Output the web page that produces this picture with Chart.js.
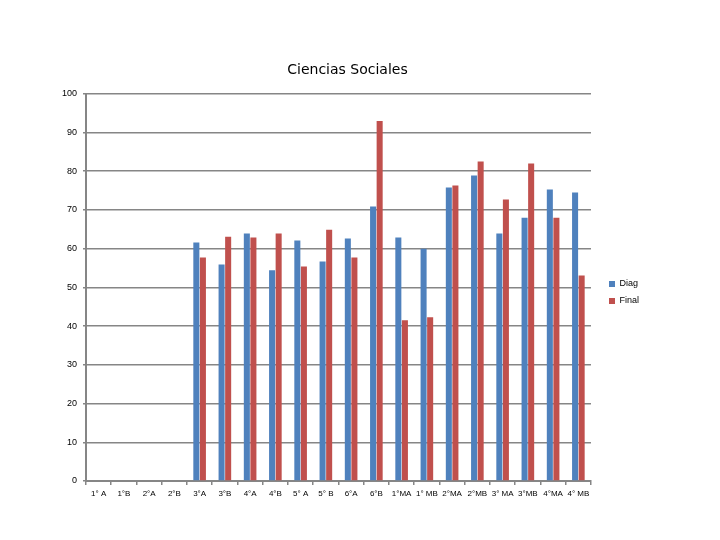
<!DOCTYPE html>
<html>
<head>
<meta charset="utf-8">
<script src="https://cdn.jsdelivr.net/npm/chart.js@4.4.1/dist/chart.umd.min.js"></script>
<style>
  body { margin: 0; background: #fff; }
  canvas { display: block; }
</style>
</head>
<body>
<canvas id="myChart" width="720" height="540"></canvas>
<script>
// cursos
const labels = ['1° A', '1°B', '2°A', '2°B', '3°A', '3°B', '4°A', '4°B', '5° A', '5° B',
  '6°A', '6°B', '1°MA', '1° MB', '2°MA', '2°MB', '3° MA', '3°MB', '4°MA', '4° MB'];

// promedios
const diag = [null, null, null, null, 61.6, 55.9, 63.9, 54.4, 62.1, 56.7,
  62.6, 70.9, 62.9, 60.0, 75.8, 78.9, 63.9, 68.0, 75.3, 74.5];
const final = [null, null, null, null, 57.7, 63.1, 62.9, 63.9, 55.4, 64.9,
  57.7, 93.0, 41.5, 42.3, 76.3, 82.5, 72.7, 82.0, 68.0, 53.1];

const yTicks = [0, 10, 20, 30, 40, 50, 60, 70, 80, 90, 100];

const gridGray = '#868686';
const tickFont = { family: 'Liberation Sans', size: 9 };

// mover la leyenda un poco a la derecha y abajo
const nudgeLegend = {
  id: 'nudgeLegend',
  afterLayout(chart) {
    chart.legend.left += 10;
    chart.legend.right += 10;
    chart.legend.top += 6;
    chart.legend.bottom += 6;
  }
};

new Chart(document.getElementById('myChart').getContext('2d'), {
  type: 'bar',
  data: {
    labels: labels,
    datasets: [
      { label: 'Diag', data: diag, backgroundColor: '#4F81BD' },
      { label: 'Final', data: final, backgroundColor: '#C0504D' }
    ]
  },
  options: {
    responsive: false,
    animation: false,
    categoryPercentage: 0.52,
    barPercentage: 0.92,
    layout: { padding: { top: 62, left: 56, right: 81, bottom: 29 } },
    plugins: {
      title: {
        display: true,
        text: 'Ciencias Sociales',
        color: '#000',
        font: { family: 'DejaVu Sans', size: 14, weight: 'normal' },
        padding: { top: 0, bottom: 15 }
      },
      legend: {
        position: 'right',
        labels: {
          boxWidth: 6,
          boxHeight: 6,
          padding: 8,
          color: '#000',
          font: tickFont
        }
      },
      tooltip: { enabled: false }
    },
    scales: {
      x: {
        grid: { drawOnChartArea: false, drawTicks: true, tickLength: 4, color: gridGray, lineWidth: 1.5 },
        border: { color: gridGray, width: 2 },
        ticks: { color: '#000', font: { family: 'Liberation Sans', size: 8 }, maxRotation: 0, autoSkip: false, padding: 4 },
        afterFit(scale) { scale.height = 30; }
      },
      y: {
        min: 0,
        max: 100,
        afterBuildTicks(scale) { scale.ticks = yTicks.map(v => ({ value: v })); },
        grid: { color: gridGray, lineWidth: 1.5, tickLength: 3 },
        border: { color: gridGray, width: 2 },
        ticks: { color: '#000', font: tickFont, padding: 6 },
        afterFit(scale) { scale.width = 30; }
      }
    }
  },
  plugins: [nudgeLegend]
});
</script>
</body>
</html>
